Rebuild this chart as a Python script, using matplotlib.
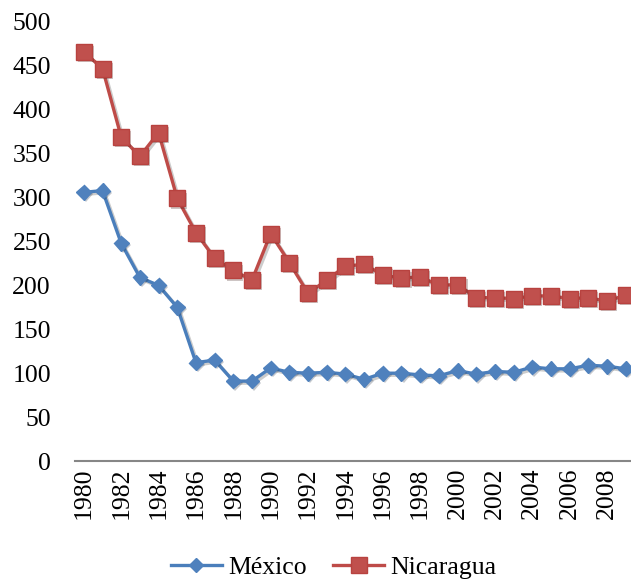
import numpy as np
import matplotlib
matplotlib.use('Agg')
import matplotlib.pyplot as plt
import matplotlib.patheffects as pe
from matplotlib.lines import Line2D

years = list(range(1980, 2010))
mexico = [306, 308, 248, 209, 200, 175, 112, 115, 91, 91,
          106, 101, 100, 101, 99, 93, 100, 100, 98, 97,
          103, 99, 102, 101, 107, 105, 105, 109, 108, 105]
nicaragua = [466, 447, 369, 347, 374, 299, 260, 231, 217, 206,
             259, 226, 191, 206, 222, 224, 212, 208, 210, 200,
             201, 186, 186, 185, 188, 188, 185, 186, 182, 189]
yticks = list(range(0, 501, 50))

plt.rcParams['font.family'] = ['Liberation Serif', 'DejaVu Serif']

fig = plt.figure(figsize=(6.31, 5.80), dpi=100)
# plot area runs a little past the right edge, like the cropped original
ax = fig.add_axes([74.5 / 631, 1 - 461 / 580, (635 - 74.5) / 631, (461 - 22) / 580])

x = np.arange(len(years))
line_sh = [pe.SimpleLineShadow(offset=(1.5, -1.5), alpha=0.2), pe.Normal()]
mark_sh = [pe.SimplePatchShadow(offset=(1.5, -1.5), alpha=0.25), pe.Normal()]

styles = {
    'México': dict(data=mexico, color='#4a7ebb', mfc='#4f81bd', mec='#4f81bd',
                   marker='D', ms=7.5),
    'Nicaragua': dict(data=nicaragua, color='#be4b48', mfc='#c0504d', mec='#b8423f',
                      marker='s', ms=11.5),
}
handles = []
for name, st in styles.items():
    ax.plot(x, st['data'], color=st['color'], lw=2.4, path_effects=line_sh, zorder=2)
    ax.plot(x, st['data'], ls='none', marker=st['marker'], ms=st['ms'],
            mfc=st['mfc'], mec=st['mec'], path_effects=mark_sh, zorder=3)
    handles.append(Line2D([], [], color=st['color'], lw=2.4, marker=st['marker'],
                          ms=st['ms'], mfc=st['mfc'], mec=st['mec'], label=name))

ax.set_xlim(-0.5, len(years) - 0.5)
ax.set_ylim(0, 500)
ax.set_yticks(yticks)
ax.set_yticklabels([str(v) for v in yticks], fontsize=18.5)
ax.set_xticks(x[::2])
ax.set_xticklabels([str(y) for y in years[::2]], rotation=90, fontsize=18.5)
ax.tick_params(axis='both', length=0)
ax.tick_params(axis='y', pad=17)
ax.tick_params(axis='x', pad=5)

for s in ['top', 'right', 'left']:
    ax.spines[s].set_visible(False)
ax.spines['bottom'].set_color('#868686')
ax.spines['bottom'].set_linewidth(1.5)

fig.legend(handles=handles, loc='center', bbox_to_anchor=(0.529, 0.0224), ncol=2,
           frameon=False, fontsize=18.5, handlelength=2.0, columnspacing=1.0,
           handletextpad=0.25, borderpad=0)

plt.savefig('out.png', dpi=100)
